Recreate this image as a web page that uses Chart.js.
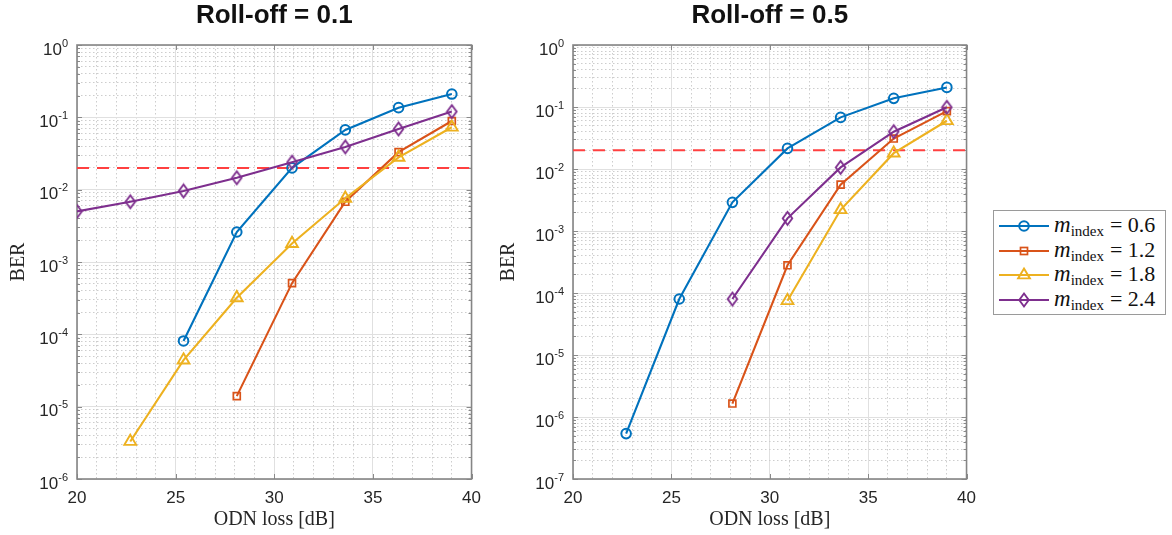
<!DOCTYPE html>
<html>
<head>
<meta charset="utf-8">
<title>BER vs ODN loss</title>
<script src="https://cdn.jsdelivr.net/npm/chart.js@4/dist/chart.umd.min.js"></script>
<style>
  html, body { margin: 0; padding: 0; background: #fff; }
  body { width: 1172px; height: 535px; position: relative; overflow: hidden; }
  canvas { position: absolute; top: 0; }
  #legend {
    position: absolute; left: 993px; top: 210px; width: 173px; height: 105px;
    border: 1px solid #9a9a9a; background: #fff; box-sizing: border-box;
    padding-top: 3px;
  }
  .row { height: 24.5px; display: flex; align-items: center; }
  .row svg { margin-left: 4px; flex: none; }
  .lab { font-family: "Liberation Serif", "DejaVu Serif", serif; color: #111; white-space: nowrap; margin-left: 4px; }
  .lab i { font-size: 23px; }
  .lab sub { font-size: 15px; vertical-align: -4px; }
  .lab .eq { font-size: 22px; margin-left: 6px; }
</style>
</head>
<body>
<canvas id="c01" width="490" height="535" style="left:0px"></canvas>
<canvas id="c05" width="495" height="535" style="left:490px"></canvas>
<div id="legend"></div>
<script>
// ODN loss sweep points [dB]
const odnLoss = [20, 22.7, 25.4, 28.1, 30.9, 33.6, 36.3, 39.0];

// Modulation index values of the four curves
const mIndex = [0.6, 1.2, 1.8, 2.4];
const seriesColors = ['#0072BD', '#D95319', '#EDB120', '#7E2F8E'];
const seriesMarkers = ['circle', 'square', 'triangle', 'diamond'];

// BER, roll-off = 0.1 (null = not measured)
const ber01_m06 = [null, null, 8.1e-5, 2.6e-3, 2.0e-2, 6.7e-2, 0.136, 0.21];
const ber01_m12 = [null, null, null, 1.4e-5, 5.1e-4, 6.8e-3, 3.3e-2, 8.9e-2];
const ber01_m18 = [null, 3.3e-6, 4.4e-5, 3.2e-4, 1.8e-3, 7.6e-3, 2.8e-2, 7.3e-2];
const ber01_m24 = [5.0e-3, 6.8e-3, 9.6e-3, 1.46e-2, 2.4e-2, 3.9e-2, 6.9e-2, 0.12];

// BER, roll-off = 0.5
const ber05_m06 = [null, 5.4e-7, 8.0e-5, 2.9e-3, 2.15e-2, 6.8e-2, 0.138, 0.207];
const ber05_m12 = [null, null, null, 1.65e-6, 2.8e-4, 5.6e-3, 3.1e-2, 8.6e-2];
const ber05_m18 = [null, null, null, null, 7.5e-5, 2.2e-3, 1.8e-2, 6.0e-2];
const ber05_m24 = [null, null, null, 8.0e-5, 1.6e-3, 1.06e-2, 4.0e-2, 9.9e-2];

// FEC threshold
const fecThreshold = 2e-2;

// Axis ticks
const xTickValues = [];
for (let v = 20; v <= 40; v++) xTickValues.push(v);
const xLabelStep = 5;
const minorSignificands = [2, 3, 4, 5, 6, 7, 8, 9];

// Diamond marker drawn as a small image (taller than wide)
function diamondImage(color, w, h, lw) {
  const c = document.createElement('canvas');
  c.width = w + 4; c.height = h + 4;
  const g = c.getContext('2d');
  const cx = c.width / 2, cy = c.height / 2;
  g.strokeStyle = color; g.lineWidth = lw;
  g.beginPath();
  g.moveTo(cx, cy - h / 2); g.lineTo(cx + w / 2, cy);
  g.lineTo(cx, cy + h / 2); g.lineTo(cx - w / 2, cy);
  g.closePath(); g.stroke();
  return c;
}

function markerProps(kind, color) {
  switch (kind) {
    case 'circle': return { pointStyle: 'circle', pointRadius: 4.8, pointBorderWidth: 2 };
    case 'square': return { pointStyle: 'rect', pointRadius: 4.9, pointBorderWidth: 1.7 };
    case 'triangle': return { pointStyle: 'triangle', pointRadius: 6.8, pointBorderWidth: 1.9 };
    default: return { pointStyle: diamondImage(color, 9.5, 13, 1.9), pointRadius: 6.5, pointBorderWidth: 1.9 };
  }
}

function toPoints(xs, ys) {
  const pts = [];
  xs.forEach((x, i) => { if (ys[i] !== null) pts.push({ x: x, y: ys[i] }); });
  return pts;
}

function logTicks(minExp, maxExp) {
  const t = [];
  for (let e = minExp; e <= maxExp; e++) {
    t.push({ value: Math.pow(10, e), major: true });
    if (e < maxExp) minorSignificands.forEach(s => t.push({ value: s * Math.pow(10, e), major: false }));
  }
  return t;
}

const gridColor = ctx => (ctx.tick && ctx.tick.major) ? '#e0e0e0' : '#cdcdcd';
const gridDash = ctx => (ctx.tick && ctx.tick.major) ? [] : [1.5, 2.5];

// Axes box, inner tick marks and 10^n tick labels
const axesDecor = {
  id: 'axesDecor',
  beforeDatasetsDraw(chart) {
    const { ctx, chartArea: a, scales } = chart;
    ctx.save();
    ctx.strokeStyle = '#8a8a8a';
    ctx.lineWidth = 1;
    scales.x.ticks.forEach(t => {
      if (!t.major) return;
      const px = Math.round(scales.x.getPixelForValue(t.value)) + 0.5;
      ctx.beginPath();
      ctx.moveTo(px, a.bottom); ctx.lineTo(px, a.bottom - 5);
      ctx.moveTo(px, a.top); ctx.lineTo(px, a.top + 5);
      ctx.stroke();
    });
    scales.y.ticks.forEach(t => {
      const py = Math.round(scales.y.getPixelForValue(t.value)) + 0.5;
      const len = t.major ? 5 : 3;
      ctx.beginPath();
      ctx.moveTo(a.left, py); ctx.lineTo(a.left + len, py);
      ctx.moveTo(a.right, py); ctx.lineTo(a.right - len, py);
      ctx.stroke();
    });
    ctx.strokeStyle = '#858585';
    ctx.lineWidth = 1.6;
    ctx.strokeRect(a.left, a.top, a.right - a.left, a.bottom - a.top);
    ctx.restore();
  },
  afterDraw(chart) {
    const { ctx, chartArea: a, scales } = chart;
    ctx.save();
    ctx.fillStyle = '#262626';
    ctx.textBaseline = 'middle';
    const right = a.left - 9;
    scales.y.ticks.forEach(t => {
      if (!t.major) return;
      const e = Math.round(Math.log10(t.value));
      const py = scales.y.getPixelForValue(t.value);
      const expText = String(e);
      ctx.font = '11px "Liberation Sans", Arial, sans-serif';
      const ew = ctx.measureText(expText).width;
      ctx.textAlign = 'left';
      ctx.fillText(expText, right - ew, py - 1.5);
      ctx.font = '17px "Liberation Sans", Arial, sans-serif';
      ctx.textAlign = 'right';
      ctx.fillText('10', right - ew, py + 5);
    });
    ctx.restore();
  }
};

function makeChart(id, titleText, curves, minExp, yAxisWidth, padRight) {
  const datasets = curves.map((ys, i) => Object.assign({
    label: 'm_index = ' + mIndex[i].toFixed(1),
    data: toPoints(odnLoss, ys),
    borderColor: seriesColors[i],
    pointBorderColor: seriesColors[i],
    backgroundColor: 'rgba(0,0,0,0)',
    pointBackgroundColor: 'rgba(0,0,0,0)',
    borderWidth: 2.1,
    tension: 0,
    order: curves.length - i
  }, markerProps(seriesMarkers[i], seriesColors[i])));
  datasets.push({
    label: 'FEC threshold',
    data: [{ x: 20, y: fecThreshold }, { x: 40, y: fecThreshold }],
    borderColor: '#ff4040',
    borderWidth: 2,
    borderDash: [12, 8],
    pointRadius: 0,
    order: 10
  });

  return new Chart(document.getElementById(id), {
    type: 'line',
    data: { datasets },
    options: {
      responsive: false,
      animation: false,
      devicePixelRatio: 1,
      layout: { padding: { top: 0, right: padRight, bottom: 0, left: 0 } },
      plugins: {
        legend: { display: false },
        tooltip: { enabled: false },
        title: {
          display: true,
          text: titleText,
          fullSize: false,
          color: '#111',
          font: { family: '"Liberation Sans", Arial, sans-serif', size: 26, weight: 'bold', lineHeight: 1.2 },
          padding: { top: 0, bottom: 13.8 }
        }
      },
      scales: {
        x: {
          type: 'linear',
          min: 20, max: 40,
          afterBuildTicks: s => { s.ticks = xTickValues.map(v => ({ value: v, major: v % xLabelStep === 0 })); },
          afterFit: s => { s.height = 56; },
          ticks: {
            autoSkip: false, maxRotation: 0, padding: 9,
            color: '#262626',
            font: { family: '"Liberation Sans", Arial, sans-serif', size: 17 },
            callback: v => (v % xLabelStep === 0 ? String(v) : '')
          },
          grid: { drawTicks: false, color: gridColor, lineWidth: 1 },
          border: { display: false, dash: gridDash },
          title: {
            display: true, text: 'ODN loss [dB]', color: '#262626',
            font: { family: '"Liberation Serif", "Times New Roman", serif', size: 20, lineHeight: 1.2 },
            padding: { top: 0, bottom: 3 }
          }
        },
        y: {
          type: 'logarithmic',
          min: Math.pow(10, minExp), max: 1,
          afterBuildTicks: s => { s.ticks = logTicks(minExp, 0); },
          afterFit: s => { s.width = yAxisWidth; },
          ticks: { display: false },
          grid: { drawTicks: false, color: gridColor, lineWidth: 1 },
          border: { display: false, dash: gridDash },
          title: {
            display: true, text: 'BER', color: '#262626',
            font: { family: '"Liberation Serif", "Times New Roman", serif', size: 20, lineHeight: 1.2 },
            padding: { top: 7, bottom: 0 }
          }
        }
      }
    },
    plugins: [axesDecor]
  });
}

makeChart('c01', 'Roll-off = 0.1', [ber01_m06, ber01_m12, ber01_m18, ber01_m24], -6, 77, 17);
makeChart('c05', 'Roll-off = 0.5', [ber05_m06, ber05_m12, ber05_m18, ber05_m24], -7, 83, 15);

// Legend rows
function swatchSvg(kind, color) {
  const w = 52, h = 20, cx = 26, cy = 10;
  let mark = '';
  if (kind === 'circle') mark = `<circle cx="${cx}" cy="${cy}" r="4.8" fill="none" stroke="${color}" stroke-width="2"/>`;
  else if (kind === 'square') mark = `<rect x="${cx - 3.5}" y="${cy - 3.5}" width="7" height="7" fill="none" stroke="${color}" stroke-width="1.7"/>`;
  else if (kind === 'triangle') mark = `<polygon points="${cx},${cy - 6.4} ${cx + 5.9},${cy + 3.4} ${cx - 5.9},${cy + 3.4}" fill="none" stroke="${color}" stroke-width="1.9"/>`;
  else mark = `<polygon points="${cx},${cy - 6.5} ${cx + 4.75},${cy} ${cx},${cy + 6.5} ${cx - 4.75},${cy}" fill="none" stroke="${color}" stroke-width="1.9"/>`;
  return `<svg width="${w}" height="${h}" viewBox="0 0 ${w} ${h}"><line x1="1" y1="${cy}" x2="${w - 1}" y2="${cy}" stroke="${color}" stroke-width="2.1"/>${mark}</svg>`;
}
const legendEl = document.getElementById('legend');
mIndex.forEach((m, i) => {
  const row = document.createElement('div');
  row.className = 'row';
  row.innerHTML = swatchSvg(seriesMarkers[i], seriesColors[i]) +
    `<span class="lab"><i>m</i><sub>index</sub><span class="eq">= ${m.toFixed(1)}</span></span>`;
  legendEl.appendChild(row);
});
</script>
</body>
</html>
